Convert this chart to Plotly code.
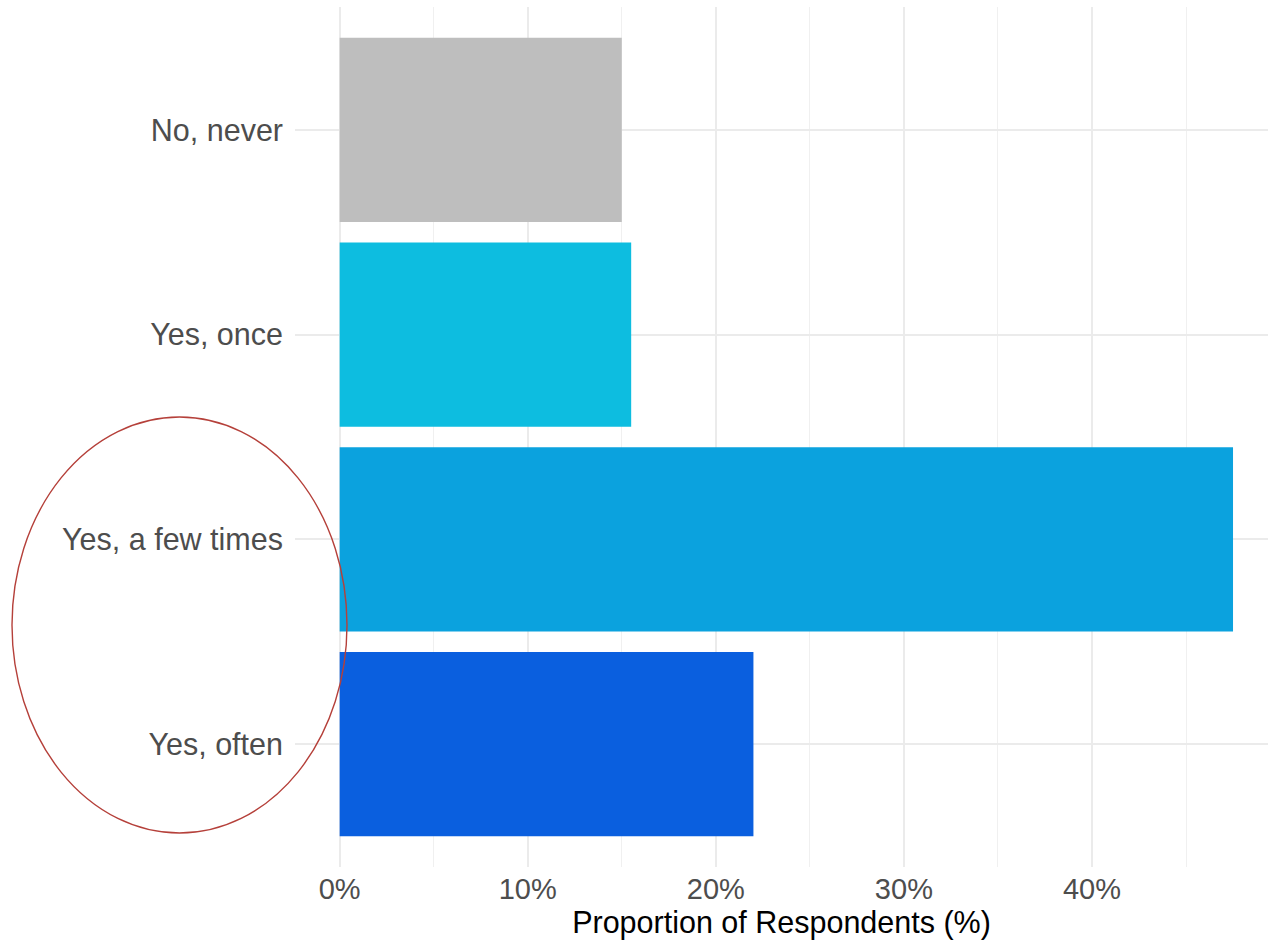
import plotly.graph_objects as go

categories = ["No, never", "Yes, once", "Yes, a few times", "Yes, often"]
values = [15.0, 15.5, 47.5, 22.0]
colors = ["#bebebe", "#0dbde0", "#0ba2de", "#0a5fdf"]
x_tickvals = [0, 10, 20, 30, 40]
x_ticktext = ["0%", "10%", "20%", "30%", "40%"]

W, H = 1268, 942
L, R, T, B = 295, 0, 7, 75

fig = go.Figure()
fig.add_trace(go.Bar(
    y=categories, x=values, orientation="h",
    marker=dict(color=colors, line=dict(width=0)),
    width=0.9, showlegend=False, hoverinfo="x+y",
))

pw = W - L - R
ph = H - T - B
def px_x(p):
    return (p - L) / pw
def px_y(p):
    return (H - B - p) / ph

fig.add_shape(type="circle", xref="paper", yref="paper",
              x0=px_x(12), x1=px_x(347), y0=px_y(833), y1=px_y(417),
              line=dict(color="#b5403a", width=1.4), fillcolor="rgba(0,0,0,0)",
              layer="above")

fig.update_layout(
    width=W, height=H,
    margin=dict(l=L, r=R, t=T, b=B, pad=0),
    plot_bgcolor="white", paper_bgcolor="white",
    font=dict(family="Liberation Sans, Arial, sans-serif", size=30, color="#4d4d4d"),
    bargap=0.1,
    xaxis=dict(
        range=[-2.375, 49.36],
        tickvals=x_tickvals, ticktext=x_ticktext,
        showgrid=True, gridcolor="#ebebeb", gridwidth=1.5,
        minor=dict(dtick=5, tick0=0, showgrid=True, gridcolor="#f0f0f0", gridwidth=1.2),
        zeroline=False, showline=False, ticks="",
        tickfont=dict(size=29, color="#4d4d4d"),
        ticklabelstandoff=2,
        title=dict(text="Proportion of Respondents (%)",
                   font=dict(size=30.5, color="black"), standoff=2),
        fixedrange=True,
    ),
    yaxis=dict(
        categoryorder="array", categoryarray=categories[::-1],
        range=[-0.6, 3.6],
        showgrid=True, gridcolor="#ebebeb", gridwidth=1.5,
        zeroline=False, showline=False, ticks="",
        ticklabelstandoff=11,
        tickfont=dict(size=30.5, color="#4d4d4d"),
        fixedrange=True,
    ),
)

fig.write_html("out.html", config={"displayModeBar": False},
               post_script="document.body.style.margin='0';document.body.style.overflow='hidden';")
